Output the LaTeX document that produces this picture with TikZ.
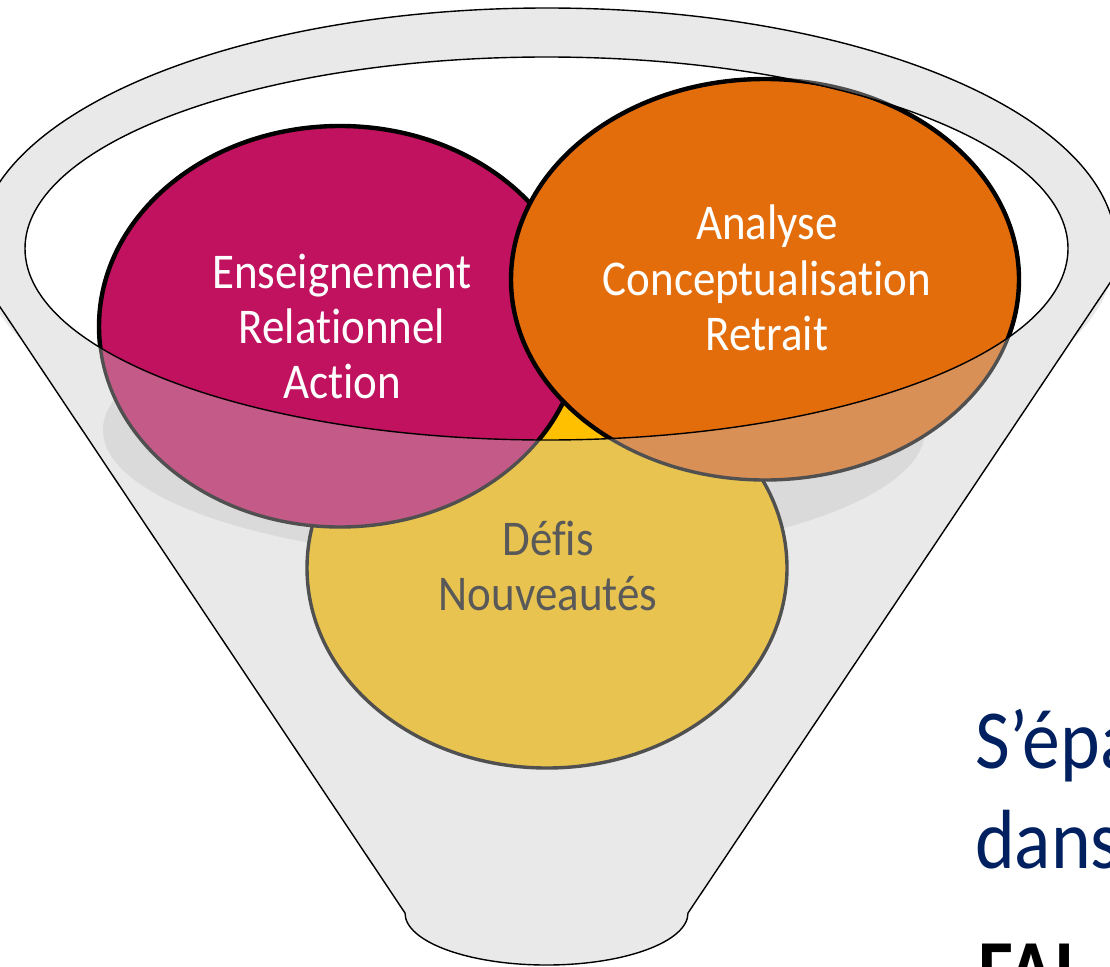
\documentclass[tikz,border=0pt]{standalone}
\usepackage{fontspec}
\setmainfont{Carlito}
\newfontfamily\gill[FakeStretch=0.9,Ligatures=NoCommon]{Carlito}
\definecolor{funnelgray}{RGB}{233,233,233}
\definecolor{shadowgray}{RGB}{218,218,218}
\definecolor{fadeline}{RGB}{80,80,80}
\definecolor{magviv}{RGB}{192,18,94}
\definecolor{magfade}{RGB}{195,90,135}
\definecolor{orviv}{RGB}{227,108,11}
\definecolor{orfade}{RGB}{217,144,87}
\definecolor{yelviv}{RGB}{255,192,0}
\definecolor{yelfade}{RGB}{232,195,80}
\definecolor{navy}{RGB}{0,32,96}
\definecolor{darktext}{RGB}{89,89,89}
\begin{document}
\begin{tikzpicture}[x=1pt,y=-1pt,
  outline/.style={draw=black,line width=1.4pt},
  fadedline/.style={draw=fadeline,line width=3.4pt},
  vividline/.style={draw=black,line width=4.4pt},
  intext/.style={inner sep=0pt,anchor=base,font=\gill\fontsize{50}{55}\selectfont},
  sidetext/.style={inner sep=0pt,anchor=base west,font=\gill\fontsize{84}{100}\selectfont}]
\useasboundingbox (0,0) rectangle (1110,966);
\clip (0,0) rectangle (1110,966);

% funnel body
\fill[funnelgray] (547,248) ellipse [x radius=569pt, y radius=240pt];
\fill[funnelgray] (-30,262) -- (405,913)
  arc[start angle=180,end angle=360,x radius=141.5pt,y radius=52pt]
  -- (1140,238) -- cycle;
% shadow inside funnel
\fill[shadowgray] (514,430) ellipse [x radius=411pt, y radius=130pt];
% opening
\fill[white] (546.5,248.5) ellipse [x radius=521.5pt, y radius=191.5pt];

% circles seen through the funnel
\path[fill=yelfade,fadedline] (547,568) ellipse [x radius=240pt, y radius=200pt];
\path[fill=magfade,fadedline] (340,326.5) ellipse [x radius=241pt, y radius=200.5pt];
\path[fill=orfade,fadedline] (765,279.5) ellipse [x radius=254pt, y radius=200.5pt];

% circles inside the opening
\begin{scope}
  \clip (546.5,248.5) ellipse [x radius=521.5pt, y radius=191.5pt];
  \path[fill=yelviv,vividline] (547,568) ellipse [x radius=240pt, y radius=200pt];
  \path[fill=magviv,vividline] (340,326.5) ellipse [x radius=241pt, y radius=200.5pt];
  \path[fill=orviv,vividline] (765,279.5) ellipse [x radius=254pt, y radius=200.5pt];
\end{scope}

% rim and funnel outlines
\draw[outline] (546.5,248.5) ellipse [x radius=521.5pt, y radius=191.5pt];
\draw[outline] (-22,248) arc[start angle=180,end angle=0,x radius=569pt,y radius=240pt];
\draw[outline] (-30,262) -- (405,913)
  arc[start angle=180,end angle=360,x radius=141.5pt,y radius=52pt]
  -- (1140,238);

% texts
\node[intext,text=white] (e1) at (342,288) {Enseignement};
\node[intext,text=white] (e2) at (342,343) {Relationnel};
\node[intext,text=white] (e3) at (342,398) {Action};
\node[intext,text=white] (a1) at (767,239) {Analyse};
\node[intext,text=white] (a2) at (767,295) {Conceptualisation};
\node[intext,text=white] (a3) at (767,350) {Retrait};
\node[intext,text=darktext] (d1) at (548,555) {Défis};
\node[intext,text=darktext] (d2) at (548,610) {Nouveautés};

\node[sidetext,text=navy] (s1) at (975,768) {S’épa};
\node[sidetext,text=navy] (s2) at (975,868) {dans};
\node[sidetext,text=black,font=\gill\bfseries\fontsize{84}{100}\selectfont] (s3) at (978,998) {FAI};
\end{tikzpicture}
\end{document}
